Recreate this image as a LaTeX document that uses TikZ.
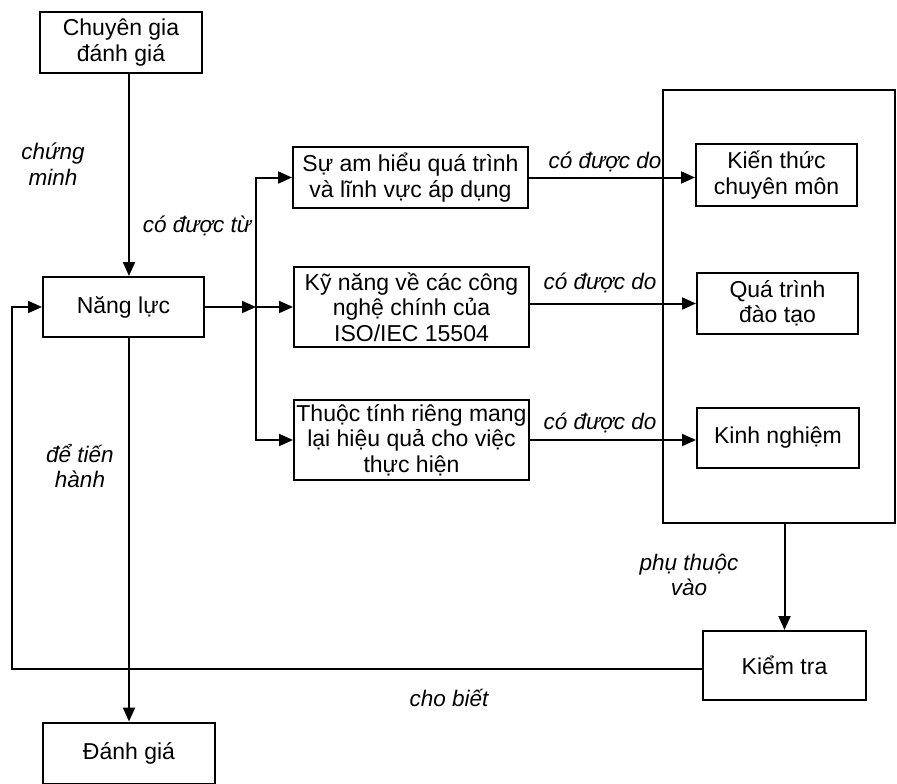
\documentclass[tikz,border=0pt]{standalone}
\usepackage{fontspec}
\setmainfont{Liberation Sans}
\usetikzlibrary{arrows.meta}

\tikzset{
  hop/.style={draw, line width=2pt, align=center, inner sep=0pt,
    font=\fontsize{23}{25.5}\selectfont},
  nhan/.style={align=center, inner sep=0pt,
    font=\fontsize{22.5}{25.5}\selectfont\itshape},
  muiten/.style={line width=2pt, -{Triangle[length=14pt,width=12pt]}},
  duong/.style={line width=2pt}
}

\begin{document}
\begin{tikzpicture}[x=1pt,y=-1pt]
\useasboundingbox (0,0) rectangle (897,784);
%\draw[step=50,gray,very thin] (0,0) grid (897,784); %background grid
% cac hop
\node[hop, minimum width=162, minimum height=61] (cg) at (121,42.5) {Chuyên gia\\đánh giá};
\node[hop, minimum width=161, minimum height=60] (nl) at (123.5,307) {Năng lực};
\node[hop, minimum width=172, minimum height=61] (dg) at (129,753) {Đánh giá};
\node[hop, minimum width=235, minimum height=61] (su) at (410.5,177.5) {Sự am hiểu quá trình\\và lĩnh vực áp dụng};
\node[hop, minimum width=235, minimum height=80] (kn) at (411.5,307) {Kỹ năng về các công\\nghệ chính của\\ISO/IEC 15504};
\node[hop, minimum width=235, minimum height=80] (tt) at (411.5,440) {Thuộc tính riêng mang\\lại hiệu quả cho việc\\thực hiện};
\node[hop, minimum width=232, minimum height=433] (nguon) at (779,306.5) {};
\node[hop, minimum width=161, minimum height=62] (kt) at (776.5,175) {Kiến thức\\chuyên môn};
\node[hop, minimum width=161, minimum height=61] (qt) at (777.5,303.5) {Quá trình\\đào tạo};
\node[hop, minimum width=162, minimum height=60] (ng) at (778,438) {Kinh nghiệm};
\node[hop, minimum width=163, minimum height=69] (ktr) at (784.5,665.5) {Kiểm tra};
% nhan
\node[nhan] (cm) at (53,164) {chứng\\minh};
\node[nhan] (tu) at (197,226) {có được từ};
\node[nhan] (do1) at (605,162) {có được do};
\node[nhan] (do2) at (600,283) {có được do};
\node[nhan] (do3) at (600,423) {có được do};
\node[nhan] (th) at (80,466) {để tiến\\hành};
\node[nhan] (pt) at (689,575) {phụ thuộc\\vào};
\node[nhan] (cb) at (449,698) {cho biết};
% diem re
\coordinate (tach) at (256,307);
\coordinate (vong) at (12,669);
% mui ten
\draw[muiten] (dg.north |- cg.south) -- (dg.north |- nl.north);
\draw[muiten] (dg.north |- nl.south) -- (dg.north);
\draw[muiten] (nl.east) -- (tach);
\draw[muiten] (tach) |- (su.west);
\draw[muiten] (tach) -- (kn.west);
\draw[muiten] (tach) |- (tt.west);
\draw[muiten] (su.east) -- (su.east -| kt.west);
\draw[muiten] (kn.east |- qt.west) -- (qt.west);
\draw[muiten] (tt.east) -- (tt.east -| ng.west);
\draw[muiten] (ktr.north |- nguon.south) -- (ktr.north);
\draw[muiten] (ktr.west |- vong) -- (vong) |- (nl.west);
\end{tikzpicture}
\end{document}
